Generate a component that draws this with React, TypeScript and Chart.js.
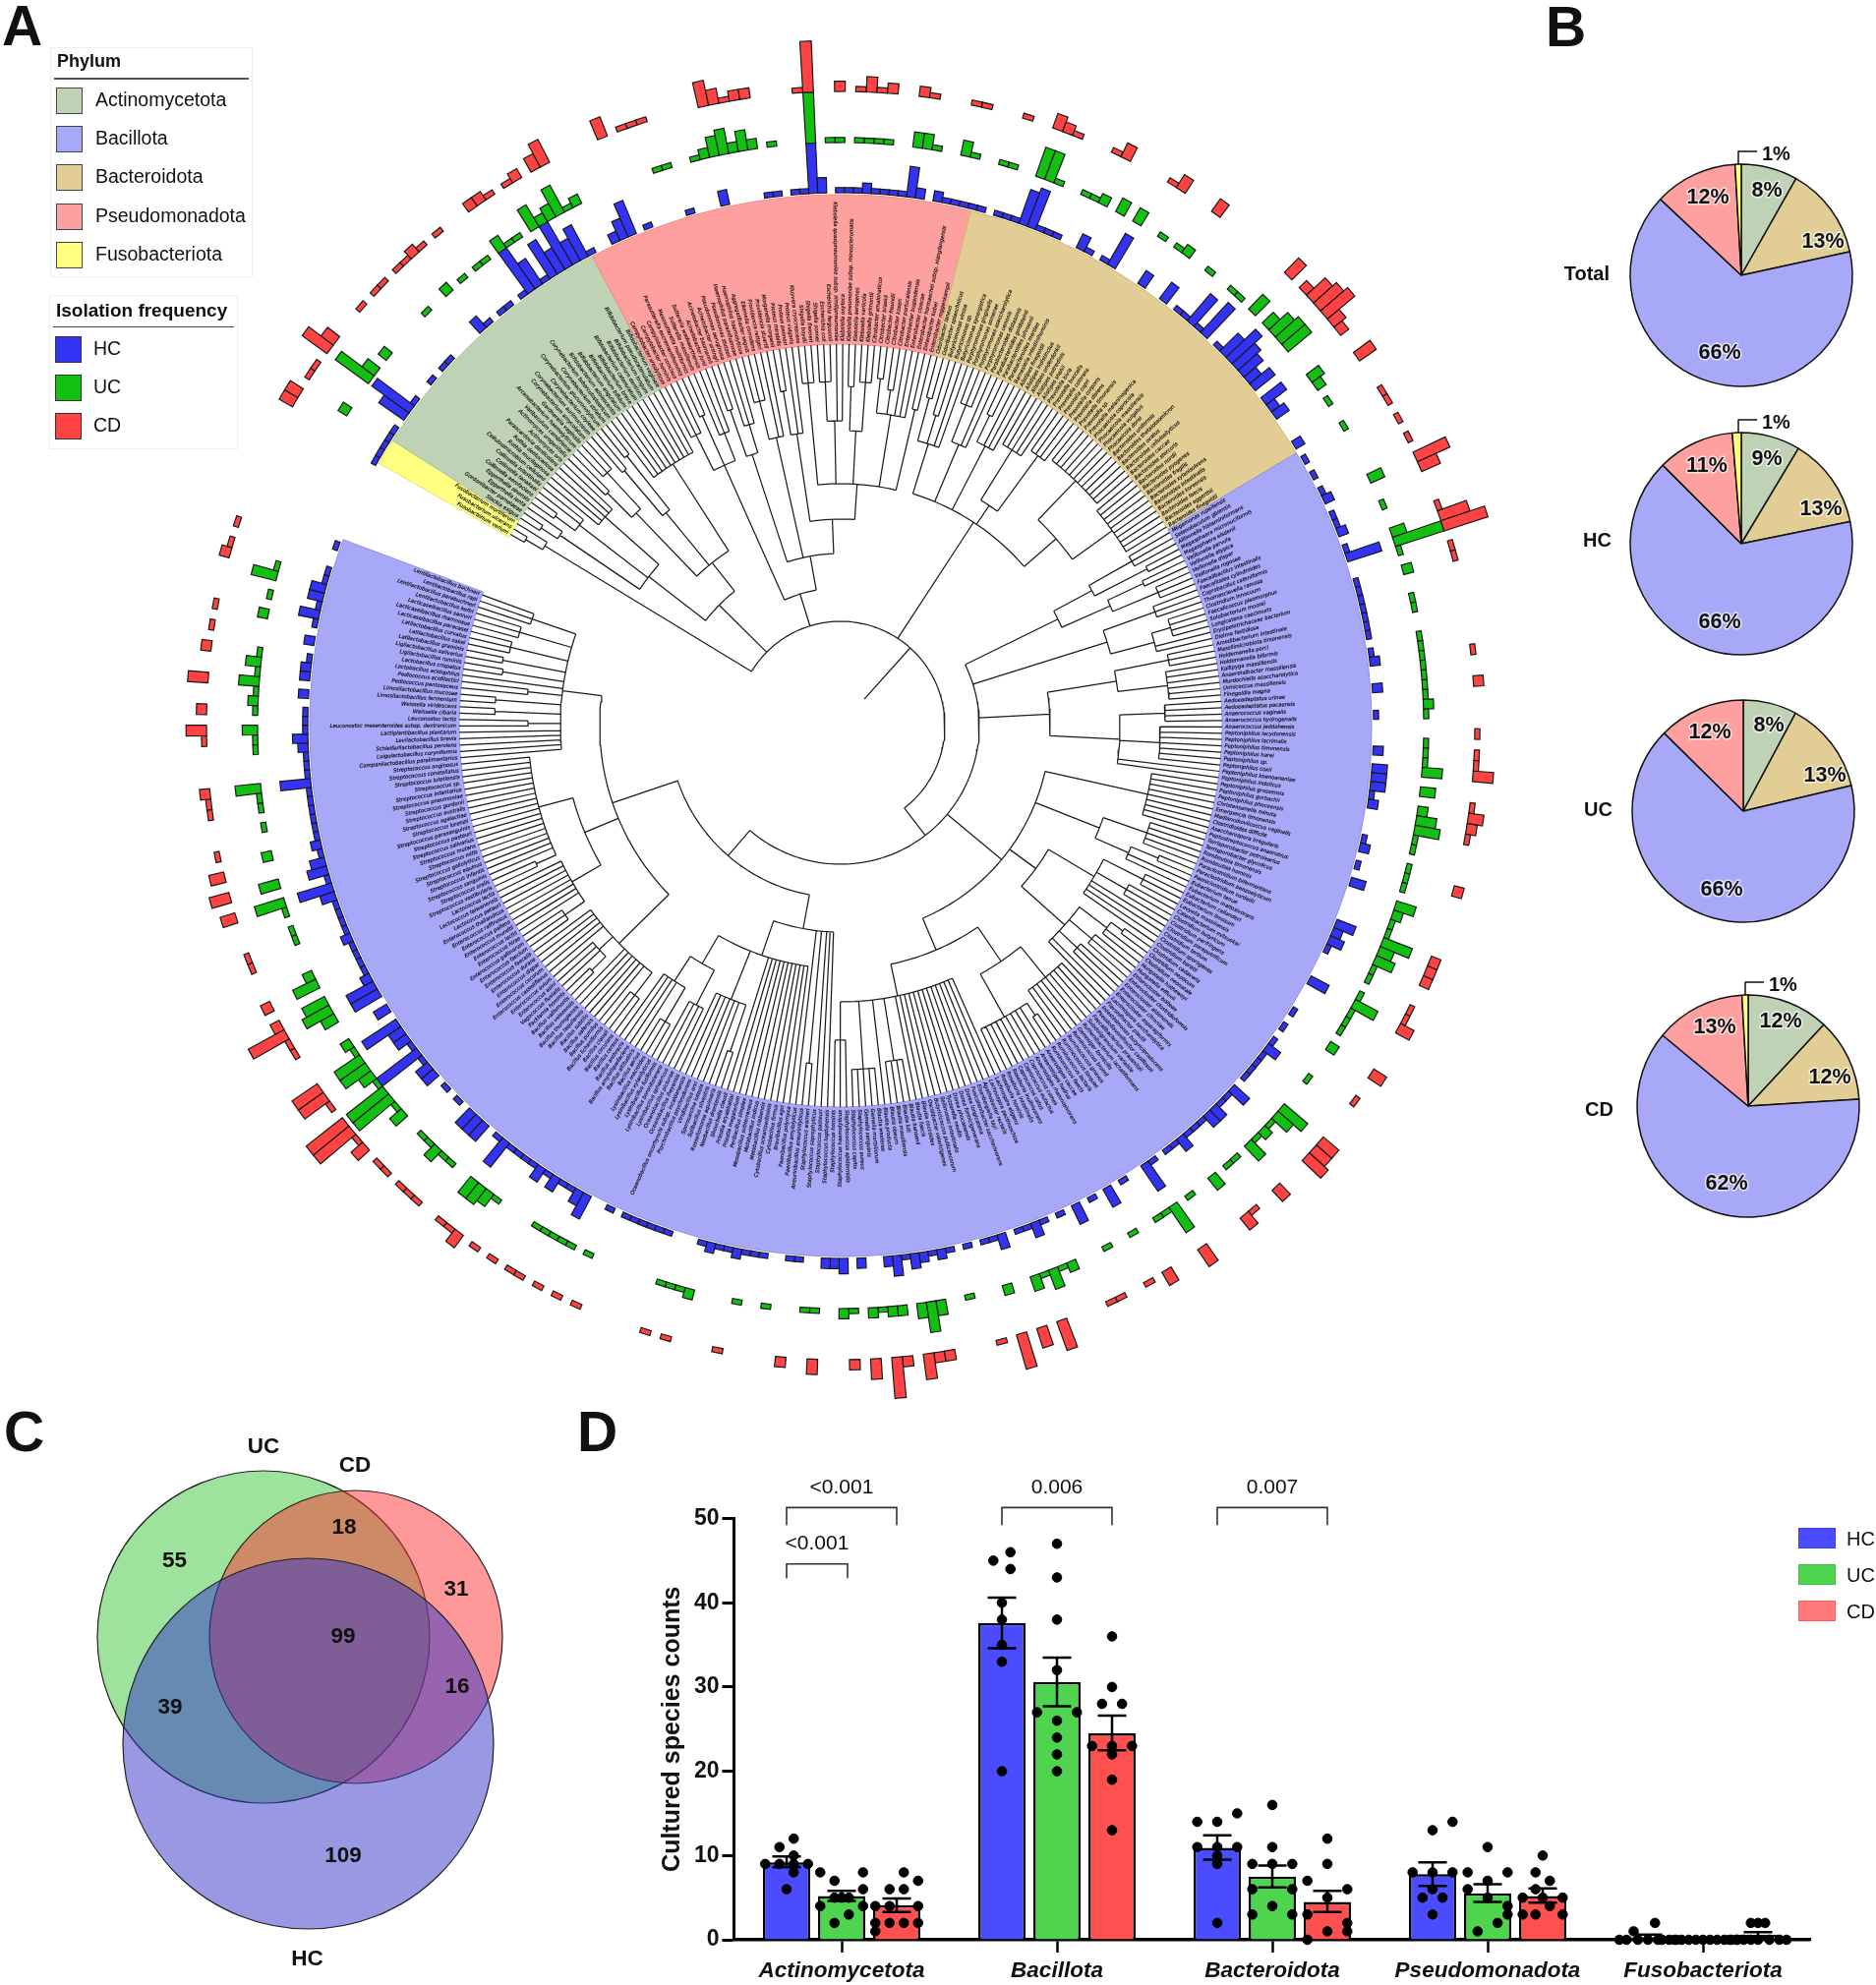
import React, { useEffect, useRef } from "react";
import { Chart, registerables } from "chart.js";

Chart.register(...registerables);

const FONT = '"Liberation Sans", Arial, sans-serif';

/* ---------- Panel A: species, clockwise from the start of the ring ---------- */
const sp = (genus: string, names: string) => names.split(",").map((n) => `${genus} ${n}`);

const fusoLabels = sp("Fusobacterium", "varium,ulcerans,mortiferum");
const actinoLabels = [
  "Slackia exigua", "Gordonibacter pamelaeae", "Eggerthella lenta", "Eggerthella sinensis",
  ...sp("Collinsella", "aerofaciens,tanakaei,intestinalis"), "Cellulosimicrobium cellulans",
  ...sp("Rothia", "mucilaginosa,dentocariosa"), "Parascardovia denticolens",
  ...sp("Actinomyces", "oris,urogenitalis"), "Varibaculum cambriense", "Arcanobacterium haemolyticum",
  "Gardnerella vaginalis",
  ...sp("Corynebacterium", "amycolatum,aurimucosum,coyleae,glucuronolyticum,striatum,tuberculostearicum"),
  ...sp("Bifidobacterium", "adolescentis,angulatum,bifidum,breve,catenulatum,dentium,longum,pseudocatenulatum,vaginale"),
];
const pseudoLabels = [
  ...sp("Campylobacter", "ureolyticus,hominis,concisus"), "Parasutterella excrementihominis",
  "Mesosutterella multiformis", ...sp("Sutterella", "massiliensis,wadsworthensis"),
  ...sp("Acinetobacter", "junii,baumannii,ursingii"), ...sp("Pseudomonas", "aeruginosa,stutzeri"),
  ...sp("Haemophilus", "parainfluenzae,haemolyticus"), "Aggregatibacter segnis", "Eikenella corrodens",
  ...sp("Providencia", "rettgeri,stuartii"), "Morganella morganii", ...sp("Proteus", "mirabilis,penneri,vulgaris"),
  "Kluyvera cryocrescens", ...sp("Shigella", "boydii,flexneri,sonnei"), ...sp("Escherichia", "coli,fergusonii"),
  "Klebsiella quasipneumoniae subsp. similipneumoniae", "Klebsiella oxytoca",
  "Klebsiella pneumoniae subsp. rhinoscleromatis", ...sp("Klebsiella", "aerogenes,variicola,grimontii"),
  ...sp("Citrobacter", "amalonaticus,braakii,freundii,koseri,portucalensis"),
  ...sp("Enterobacter", "bugandensis,cloacae"), "Enterobacter hormaechei subsp. xiangfangensis",
  ...sp("Enterobacter", "kobei,roggenkampii"),
];
const bacteroidotaLabels = [
  ...sp("Odoribacter", "laneus,splanchnicus"), ...sp("Butyricimonas", "virosa,sp.,synergistica"),
  ...sp("Porphyromonas", "gingivalis,somerae,asaccharolytica,uenonis"),
  ...sp("Parabacteroides", "distasonis,goldsteinii,johnsonii,merdae"), "Barnesiella intestinihominis",
  ...sp("Alistipes", "finegoldii,indistinctus,onderdonkii,putredinis,shahii"),
  ...sp("Prevotella", "bivia,buccalis,colorans,copri,corporis,disiens,timonensis,sp.,melaninogenica"),
  ...sp("Phocaeicola", "coprocola,massiliensis,vulgatus,dorei"),
  ...sp("Bacteroides", "uniformis,thetaiotaomicron,ovatus,cellulosilyticus,caccae,stercoris,nordii,pyogenes,fragilis,xylanisolvens,intestinalis,koreensis,faecis,eggerthii,finegoldii"),
];
const bacillotaLabels = [
  "Megamonas rupellensis", "Selenobaculum gbiensis", "Allisonella histaminiformans",
  ...sp("Megasphaera", "micronuciformis,elsdenii"), ...sp("Veillonella", "parvula,atypica,dispar,rogosae"),
  "Faecalibacillus intestinalis", "Faecalitalea cylindroides", "Coprobacillus cateniformis", "Thomasclavelia ramosa",
  "Clostridium innocuum", "Faecalicoccus pleomorphus", "Solobacterium moorei", "Longicatena caecimuris",
  "Erysipelotrichaceae bacterium", "Dielma fastidiosa", "Amedibacterium intestinale", "Massilimicrobiota timonensis",
  ...sp("Holdemanella", "porci,biformis"), "Kallipyga massiliensis", "Anaerotalbacter massiliensis",
  "Murdochiella asaccharolytica", "Urinicoccus massiliensis", "Finegoldia magna",
  ...sp("Aedoeadaptatus", "urinae,pacaensis"), ...sp("Anaerococcus", "vaginalis,hydrogenalis,jeddahensis"),
  ...sp("Peptoniphilus", "lacydonensis,lacrimalis,timonensis,harei,sp.,coxii,koenoeneniae,indolicus,grossensis,gorbachii,phoceensis"),
  "Christensenella minuta", "Emergencia timonensis", "Mediannikoviicoccus vaginalis", "Clostridioides difficile",
  "Asaccharospora irregularis", "Peptostreptococcus anaerobius", ...sp("Terrisporobacter", "petrolearius,glycolicus"),
  ...sp("Romboutsia", "timonensis,hominis"), ...sp("Paraclostridium", "bifermentans,benzoelyticum"),
  "Paeniclostridium sordellii", "Eubacterium tenue", ...sp("Eubacterium", "maltosivorans,callanderi,limosum"),
  "Levyella massiliensis", "Catenibacterium mitsuokai",
  ...sp("Clostridium", "butyricum,perfringens,paraputrificum,tertium,sporogenes,baratii,cadaveris,septicum,neonatale"),
  ...sp("Hungatella", "hathewayi,effluvii"), ...sp("Enterocloster", "bolteae,clostridioformis,aldenensis,citroniae,asparagiformis"),
  "Lacrimispora saccharolytica", "Flavonifractor plautii", "Intestinimonas butyriciproducens",
  "Pseudoflavonifractor capillosus", "Faecalibacterium prausnitzii", "Subdoligranulum variabile",
  "Ruthenibacterium lactatiformans", "Gemmiger formicilis", ...sp("Ruminococcus", "bromii,gnavus,torques,lactaris,faecis"),
  ...sp("Anaerostipes", "caccae,hadrus,rhamnosivorans"), ...sp("Coprococcus", "comes,eutactus,catus"),
  ...sp("Roseburia", "inulinivorans,intestinalis,hominis"), ...sp("Lachnospira", "eligens,pectinoschiza"),
  "Agathobacter rectalis", "Eisenbergiella tayi", "Fusicatenibacter saccharivorans",
  ...sp("Dorea", "longicatena,formicigenerans,phocaeensis"), "Tyzzerella nexilis", "Sellimonas intestinalis",
  "Butyricicoccus pullicaecorum", "Oscillibacter valericigenes",
  ...sp("Blautia", "coccoides,faecis,hansenii,luti,massiliensis,obeum,producta,wexlerae"),
  ...sp("Gemella", "morbillorum,sanguinis"),
  ...sp("Staphylococcus", "aureus,capitis,epidermidis,haemolyticus,hominis,lugdunensis,pasteuri,saprophyticus,warneri"),
  "Aneurinibacillus aneurinilyticus", ...sp("Paenibacillus", "amylolyticus,polymyxa"), "Brevibacillus agri",
  ...sp("Cytobacillus", "firmus,oceanisediminis"), ...sp("Metabacillus", "niabensis,indicus"),
  "Mesobacillus subterraneus", "Peribacillus simplex", ...sp("Priestia", "megaterium,aryabhattai"),
  "Shouchella clausii", "Neobacillus drentensis", "Rossellomorea aquimaris", "Solibacillus silvestris",
  "Sporosarcina luteola", "Viridibacillus arvi", "Psychrobacillus psychrodurans",
  "Oceanobacillus oncorhynchi subsp. incaldanensis", ...sp("Oceanobacillus", "iheyensis,picturae"),
  ...sp("Lysinibacillus", "sphaericus,boronitolerans,fusiformis,xylanilyticus,macroides"),
  ...sp("Bacillus", "aerius,altitudinis,amyloliquefaciens,anthracis,cereus,circulans,clausii,licheniformis,pumilus,safensis,subtilis,tequilensis,thuringiensis,velezensis,vallismortis"),
  "Facklamia hominis", "Vagococcus fluvialis",
  ...sp("Enterococcus", "asini,avium,casseliflavus,cecorum,dispar,durans,faecalis,faecium,gallinarum,hirae,lactis,mundtii,pallens,raffinosus,thailandicus"),
  ...sp("Lactococcus", "petauri,taiwanensis,lactis"),
  ...sp("Streptococcus", "vestibularis,oralis,sanguinis,infantis,equinus,gallolyticus,mitis,mutans,salivarius,pasteuri,parasanguinis,lorenzii,agalactiae,australis,gordonii,pneumoniae,infantarius,sp.,lutetiensis,constellatus,anginosus"),
  "Companilactobacillus paralimentarius", "Loigolactobacillus coryniformis", "Schleiferilactobacillus perolens",
  "Levilactobacillus brevis", "Lactiplantibacillus plantarum", "Leuconostoc mesenteroides subsp. dextranicum",
  "Leuconostoc lactis", "Weissella cibaria", "Weissella viridescens", "Limosilactobacillus fermentum",
  "Limosilactobacillus mucosae", "Pediococcus pentosaceus", "Pediococcus acidilactici", "Lactobacillus acidophilus",
  "Lactobacillus crispatus", "Ligilactobacillus ruminis", "Ligilactobacillus salivarius", "Latilactobacillus graminis",
  "Latilactobacillus sakei", "Latilactobacillus curvatus", "Lacticaseibacillus paracasei", "Lacticaseibacillus rhamnosus",
  "Lacticaseibacillus saniviri", "Lentilactobacillus kefiri", "Lentilactobacillus parabuchneri", "Lentilactobacillus rapi",
  "Lentilactobacillus buchneri",
];
const speciesLabels = [...fusoLabels, ...actinoLabels, ...pseudoLabels, ...bacteroidotaLabels, ...bacillotaLabels];

const phylumNames = ["Fusobacteriota", "Actinomycetota", "Pseudomonadota", "Bacteroidota", "Bacillota"];
const phylumCounts = [3, 31, 44, 47, 242];
const phylumFill = ["#FFFF80", "#BFD2B6", "#FFA0A0", "#E2CE95", "#A8A8F8"];
const phylumEdge = ["#E2E270", "#A5C09A", "#F08888", "#CDB676", "#8E8EE8"];

/* [species index, isolation frequency in tenths] */
const hcFrequency = [[0,1],[1,1],[2,1],[3,1],[4,1],[6,6],[7,9],[8,1],[11,1],[13,1],[14,1],[19,3],[20,1],[22,1],[23,1],[25,1],[26,10],[27,6],[28,1],[29,8],[30,5],[31,10],[32,5],[33,7],[34,1],[37,2],[38,4],[39,7],[41,1],[46,1],[50,3],[55,1],[56,1],[58,1],[59,1],[60,10],[61,3],[63,1],[64,1],[65,1],[66,2],[67,1],[68,1],[69,1],[70,1],[71,6],[72,2],[74,2],[75,1],[76,1],[77,1],[78,1],[79,1],[81,1],[82,1],[83,1],[84,7],[85,8],[86,1],[87,1],[88,1],[91,3],[92,1],[94,1],[95,7],[99,3],[102,4],[104,1],[105,1],[106,7],[107,1],[108,8],[110,1],[111,5],[112,8],[113,6],[114,5],[115,3],[116,5],[118,5],[119,2],[120,3],[124,2],[126,1],[128,1],[130,1],[131,2],[133,1],[134,1],[135,2],[137,1],[138,7],[141,1],[142,1],[143,1],[144,1],[145,1],[146,1],[147,1],[149,1],[150,2],[153,2],[156,1],[160,2],[162,3],[163,3],[164,3],[165,1],[166,2],[170,1],[171,2],[173,1],[175,3],[180,4],[181,2],[182,3],[183,1],[187,4],[191,1],[193,1],[195,1],[196,3],[197,1],[198,1],[199,1],[200,1],[202,4],[203,1],[204,1],[205,3],[206,3],[207,1],[208,1],[209,1],[210,3],[211,1],[212,1],[214,1],[215,6],[218,1],[220,4],[222,1],[224,4],[226,1],[228,1],[229,3],[230,1],[231,1],[233,3],[234,1],[235,1],[237,1],[239,1],[240,2],[241,1],[242,2],[243,3],[244,1],[245,4],[246,2],[249,2],[251,3],[252,2],[253,2],[256,1],[257,1],[260,1],[261,1],[262,1],[263,2],[264,1],[265,1],[266,2],[267,1],[271,1],[272,1],[273,1],[274,1],[275,1],[276,1],[278,1],[281,5],[282,3],[283,1],[284,1],[285,3],[286,1],[287,3],[288,1],[289,1],[290,1],[291,1],[292,6],[293,1],[295,4],[296,4],[297,4],[299,1],[301,1],[303,3],[304,3],[305,1],[306,10],[307,1],[308,3],[309,3],[310,8],[312,3],[314,6],[315,6],[316,2],[317,1],[318,1],[319,1],[320,1],[321,2],[322,1],[323,1],[324,1],[325,1],[326,3],[327,7],[328,1],[329,4],[330,3],[331,1],[332,2],[333,1],[334,1],[335,1],[336,1],[337,1],[338,1],[339,6],[340,1],[341,1],[342,1],[343,2],[344,3],[345,1],[346,1],[347,1],[349,2],[351,2],[352,2],[353,1],[355,2],[357,1],[358,4],[359,1],[360,3],[361,3],[362,1],[363,1],[366,1]];
const ucFrequency = [[3,2],[7,8],[8,3],[10,2],[16,1],[19,2],[21,1],[23,1],[24,1],[26,3],[27,1],[28,1],[30,5],[31,2],[32,3],[33,6],[34,1],[35,2],[44,1],[45,1],[48,1],[49,2],[50,4],[51,5],[52,2],[53,4],[54,2],[56,1],[60,10],[62,1],[63,1],[65,1],[66,1],[67,1],[68,1],[71,3],[72,3],[73,1],[76,3],[77,1],[80,1],[81,1],[84,6],[85,6],[86,1],[89,1],[90,1],[91,2],[93,3],[95,3],[98,1],[100,1],[101,2],[104,1],[107,1],[108,1],[110,4],[112,3],[113,5],[114,6],[115,6],[119,3],[120,2],[122,1],[125,1],[131,3],[134,1],[137,3],[138,10],[139,1],[141,2],[144,1],[145,1],[148,1],[149,1],[150,1],[151,1],[152,1],[153,1],[154,1],[155,2],[156,1],[159,1],[160,1],[161,1],[162,4],[164,3],[166,2],[167,4],[168,5],[169,1],[170,1],[172,1],[173,1],[174,1],[176,4],[177,2],[178,1],[179,1],[180,6],[181,3],[182,4],[183,1],[184,1],[186,1],[187,5],[188,1],[189,1],[190,1],[192,2],[196,1],[200,6],[201,4],[202,1],[203,2],[204,1],[205,4],[207,1],[208,1],[210,3],[213,1],[215,6],[216,1],[217,1],[220,1],[223,1],[227,2],[228,1],[229,4],[230,1],[231,3],[234,2],[238,1],[241,3],[242,6],[243,3],[245,2],[246,2],[247,1],[248,2],[250,1],[251,2],[254,1],[255,1],[259,1],[262,1],[267,2],[268,1],[269,1],[270,1],[278,1],[280,1],[281,1],[282,1],[283,1],[284,1],[289,1],[290,3],[291,4],[292,4],[295,1],[296,1],[297,3],[298,1],[299,1],[302,3],[303,1],[304,9],[305,9],[306,1],[307,3],[308,6],[309,6],[310,1],[311,2],[314,3],[315,6],[316,5],[318,5],[319,2],[323,1],[324,1],[326,1],[327,6],[329,4],[332,2],[335,1],[337,1],[338,1],[339,5],[343,1],[344,1],[345,3],[347,1],[348,2],[349,1],[350,4],[351,1],[352,3],[353,1],[357,2],[359,1],[361,5],[362,1]];
const cdFrequency = [[1,3],[2,3],[4,1],[5,1],[7,6],[8,3],[12,1],[14,1],[15,1],[17,1],[18,1],[19,2],[20,1],[22,1],[26,2],[27,2],[28,1],[30,1],[31,2],[33,3],[34,5],[40,4],[42,1],[43,1],[44,1],[50,5],[51,3],[52,1],[53,2],[54,2],[59,1],[60,10],[63,2],[65,1],[66,3],[67,1],[68,2],[71,2],[72,1],[76,1],[77,1],[81,1],[84,3],[85,2],[86,1],[90,1],[91,3],[96,1],[97,3],[101,3],[110,4],[112,2],[113,5],[114,6],[115,7],[116,3],[117,2],[120,4],[124,1],[125,1],[127,1],[129,1],[131,7],[132,4],[136,1],[137,6],[138,9],[140,1],[141,1],[150,1],[153,2],[158,1],[160,1],[161,1],[162,4],[165,1],[166,3],[167,2],[168,1],[173,2],[180,2],[181,2],[182,2],[185,1],[186,1],[187,3],[192,3],[195,1],[200,4],[201,4],[202,5],[206,3],[209,1],[210,3],[215,4],[219,3],[221,1],[224,1],[225,1],[230,6],[232,4],[234,7],[236,1],[241,2],[242,2],[243,5],[245,2],[246,8],[248,4],[250,2],[254,3],[257,2],[263,1],[268,1],[270,1],[277,1],[279,1],[281,1],[283,1],[284,1],[286,1],[288,1],[290,3],[291,1],[292,1],[295,1],[296,1],[297,1],[299,1],[300,1],[302,3],[303,1],[304,9],[305,9],[307,1],[308,6],[309,6],[313,1],[314,1],[315,8],[316,2],[318,2],[322,1],[323,1],[327,3],[329,4],[331,3],[333,1],[337,1],[338,1],[339,2],[344,1],[345,4],[347,2],[350,4],[353,2],[355,1],[357,1],[362,2],[363,1],[365,1]];

/* Dendrogram: [node depth, ...children]; a number is that many leaves joined directly. */
const fusoClade = [352, [372, 2], 1];
const actinoClade = [174, [247, [345, [365, 2], 1], [335, [360, 2], 2], [320, 5]], [211, [300, [335, 2], [350, 3]], [280, [340, 2], [350, 2]], [316, 10]]];
const pseudoClade = [140, [290, [330, 3], [345, 2], [320, 3]], [175, [290, [340, 2], [320, 3]], [300, [340, 3], 2], [210, [300, [345, 2], 2], [246, [320, [350, 3]], [310, [350, 3], 2], [300, [345, 2], [350, 3]], [320, [355, 2], [345, 2], 3], [330, 2]]]]];
const bacteroidClade = [247, [300, [345, 2], [330, 2], 2], [310, [350, 3], 2], [320, [350, 2], 3], [270, [330, 5], [340, 4]], [290, [345, 12], [340, 10]]];
const bacillotaClade = [141,
  [246, [290, [340, 3], [350, 2]], [300, [340, 2], [350, 3]]],
  [284, [340, 3], [330, [350, 4], 2]],
  [213, [284, [340, 3], [335, 6]], [284, [330, 4], [325, 7], 2]],
  [213, [320, 9], [283, [330, 5], [320, [350, 2], 2]],
    [246, [300, [345, 3], [335, 3], 4], [305, [340, [355, 2], 2], [335, 3], [330, 3], 2]],
    [248, [290, [330, 9], [340, [355, 2], 9]], [281, 14, [345, 4], 1, [350, 5], [320, 3]]]],
  [175,
    [210, 3, [345, 2], 1, [247, 11, [300, [350, 2], 6], [280, [320, 4], [310, [350, 3], 4]]]],
    [245, [316, [345, 3], 6, [335, [355, 2], 3], 5], [282, [316, [340, 3], 8], [318, [340, 2], 19]],
      [285, 5, [318, 2], [352, 2], [352, 2], [320, 2], 1, [348, 2], [350, 2], [345, 3], [340, 3], [332, 3]]]],
];
const rootClade = [106, fusoClade, actinoClade, pseudoClade, bacteroidClade, bacillotaClade];

/* ---------- Panel B ---------- */
const pieCategories = ["Actinomycetota", "Bacteroidota", "Bacillota", "Pseudomonadota", "Fusobacteriota"];
const pieColors = ["#BFD2B6", "#E2CE95", "#A8A8F8", "#FFA0A0", "#FFFF80"];
const pieTotal = [8.2, 13.4, 65.4, 12.1, 0.9];
const pieHC = [8.6, 13.2, 65.7, 11.2, 1.3];
const pieUC = [7.8, 13.5, 66.1, 12.6, 0];
const pieCD = [11.9, 12.1, 62, 13.1, 0.9];
const pieTextTotal = ["8%", "13%", "66%", "12%"];
const pieTextHC = ["9%", "13%", "66%", "11%"];
const pieTextUC = ["8%", "13%", "66%", "12%"];
const pieTextCD = ["12%", "12%", "62%", "13%"];

/* ---------- Panel C ---------- */
const vennSets = ["HC", "CD", "UC"];
const vennX = [313.5, 362, 268];
const vennY = [1773.5, 1665, 1665];
const vennR = [188.5, 149, 169];
const vennFill = ["rgba(50,50,200,.5)", "rgba(255,50,50,.5)", "rgba(60,200,60,.5)"];
const vennText = [
  ["UC", 268, 1472], ["CD", 361, 1491], ["HC", 312.5, 1993], ["55", 177.5, 1588], ["18", 350, 1554],
  ["31", 464, 1617], ["99", 349, 1665], ["16", 465, 1716], ["39", 173, 1737], ["109", 349, 1888],
];

/* ---------- Panel D ---------- */
const phylaD = ["Actinomycetota", "Bacillota", "Bacteroidota", "Pseudomonadota", "Fusobacteriota"];
const meanHC = [9.2, 37.6, 10.9, 7.8, 0.3];
const meanUC = [5.2, 30.6, 7.5, 5.5, 0];
const meanCD = [4.1, 24.5, 4.5, 5.2, 0.6];
const errHC = [[8.6, 9.9], [34.6, 40.6], [9.5, 12.4], [6.4, 9.2], [0, 0.6]];
const errUC = [[4.6, 5.8], [27.7, 33.5], [6.2, 8.8], [4.5, 6.6], [0, 0]];
const errCD = [[3.3, 4.9], [22.5, 26.6], [3.3, 5.8], [4.4, 6.1], [0.2, 0.9]];
/* [swarm column, count] */
const dotsHC = [
  [[.5,12],[-.5,11],[.5,10],[-1.5,9],[-.5,9],[.5,9],[1.5,9],[.5,8],[0,6]],
  [[.6,46],[-.6,45],[.6,44],[0,40],[0,38],[0,35],[0,33],[0,20]],
  [[-1.4,14],[0,14],[1.4,15],[-1.4,11],[0,11],[1.4,11],[0,10],[0,9],[0,2]],
  [[1.4,14],[0,13],[-1.4,8],[0,8],[1.4,8],[0,6],[-.7,5],[.7,5],[0,3]],
  [[.5,2],[-1,1],[-1.5,0],[-.7,0],[0,0],[.7,0],[1.5,0],[2,0],[-2,0],[1,0]],
];
const dotsUC = [
  [[-1.5,8],[1.5,8],[-.5,7],[1.5,6],[-.5,5],[0,5],[.5,5],[-1.5,4],[1.5,4],[.5,3],[-.5,2]],
  [[0,47],[0,43],[0,38],[0,32],[-1.4,27],[1.4,27],[0,26],[0,24],[0,22],[0,20]],
  [[0,16],[0,11],[-1.4,9],[1.4,9],[0,9],[-1.4,6],[1.4,6],[0,4],[-1.4,3],[1.4,3]],
  [[0,11],[-1.4,8],[1.4,8],[0,7],[-1.4,6],[0,5],[1.4,4],[1.4,3],[.7,2],[-.7,1]],
  [[-2,0],[-1.5,0],[-1,0],[-.5,0],[0,0],[.5,0],[1,0],[1.5,0],[2,0],[2.4,0]],
];
const dotsCD = [
  [[.5,8],[1.5,7],[-.5,6],[.5,6],[-.5,4],[1.5,4],[-1.5,4],[.5,2],[-.5,2],[1.5,2],[-1.5,1],[-1.5,2]],
  [[0,36],[0,30],[-.7,28],[.7,28],[-1.4,23],[0,23],[1.4,23],[0,22],[0,19],[0,13]],
  [[0,12],[0,9],[-1.4,7],[1.4,6],[0,5],[-1.4,3],[1.4,2],[1.4,1],[0,1],[-1.4,0]],
  [[0,10],[-.5,8],[.5,7],[-.5,6],[-1.4,5],[0,5],[1.4,5],[.5,4],[-1.4,3],[-.5,3],[1.4,3]],
  [[-.5,2],[0,2],[.5,2],[-2,0],[-1.5,0],[-1,0],[-.5,0],[0,0],[.8,0],[1.5,0],[2,0]],
];
const brackets = [
  { from: [0, 0], to: [0, 2], top: 51.3, foot: 49.2, labelY: 53.7, text: "<0.001", nudge: 0 },
  { from: [0, 0], to: [0, 1], top: 44.6, foot: 42.9, labelY: 47, text: "<0.001", nudge: 6 },
  { from: [1, 0], to: [1, 2], top: 51.3, foot: 49.2, labelY: 53.7, text: "0.006", nudge: 0 },
  { from: [2, 0], to: [2, 2], top: 51.3, foot: 49.2, labelY: 53.7, text: "0.007", nudge: 0 },
];

const ringColors = { HC: "#3333F5", UC: "#12C012", CD: "#FF4242" };
const legendD = [["HC", "#4B4BFF", "#3A3AF0"], ["UC", "#4FD44F", "#3DC23D"], ["CD", "#FF7A7A", "#FF5858"]];

/* ---------- Radial geometry ---------- */
const START_DEG = 299.6;
const STEP_DEG = (650.5 - START_DEG) / speciesLabels.length;
const TIP_R = 388;
const BAND_R = 540;
const RING_UNIT = 5.2;
const RING_BASE = { HC: 542, UC: 593, CD: 645 };
const BAR_SHIFT = 0.4;

type P = { x: number | null; y: number | null };
const polar = (r: number, deg: number): P => {
  const t = (deg * Math.PI) / 180;
  return { x: r * Math.sin(t), y: r * Math.cos(t) };
};
const GAP: P = { x: null, y: null };

function buildTree(): P[] {
  const pts: P[] = [];
  let cursor = 0;
  const seg = (r1: number, r2: number, deg: number) => pts.push(polar(r1, deg), polar(r2, deg), GAP);
  const arc = (r: number, a: number, b: number) => {
    const n = Math.max(1, Math.ceil((b - a) / 1.5));
    for (let i = 0; i <= n; i++) pts.push(polar(r, a + ((b - a) * i) / n));
    pts.push(GAP);
  };
  const walk = (node: any[]): number => {
    const r = node[0];
    const angles: number[] = [];
    for (const kid of node.slice(1)) {
      if (typeof kid === "number") {
        for (let i = 0; i < kid; i++) {
          const deg = START_DEG + (cursor + 0.5) * STEP_DEG;
          cursor++;
          seg(r, TIP_R, deg);
          angles.push(deg);
        }
      } else {
        const deg = walk(kid);
        seg(r, kid[0], deg);
        angles.push(deg);
      }
    }
    const a = angles[0];
    const b = angles[angles.length - 1];
    arc(r, a, b);
    return (a + b) / 2;
  };
  const rootDeg = walk(rootClade);
  seg(36, rootClade[0] as number, rootDeg);
  return pts;
}

function buildBars(pairs: number[][], base: number): P[] {
  const pts: P[] = [];
  for (const [i, v] of pairs) {
    const a = START_DEG + (i - BAR_SHIFT) * STEP_DEG;
    const b = a + STEP_DEG;
    const top = base + v * RING_UNIT;
    pts.push(polar(base, a), polar(top, a), polar(top, b), polar(base, b), GAP);
  }
  return pts;
}

function buildBands(): any[] {
  let first = 0;
  return phylumNames.map((name, k) => {
    const a = START_DEG + first * STEP_DEG;
    first += phylumCounts[k];
    const b = START_DEG + first * STEP_DEG;
    const pts: P[] = [];
    const n = Math.ceil(b - a);
    for (let i = 0; i <= n; i++) pts.push(polar(BAND_R, a + ((b - a) * i) / n));
    for (let i = n; i >= 0; i--) pts.push(polar(TIP_R, a + ((b - a) * i) / n));
    return { label: name, data: pts, polygon: true, fillColor: phylumFill[k], edgeColor: phylumEdge[k], edgeWidth: 1, showLine: false, pointRadius: 0 };
  });
}

/* ---------- Plugins ---------- */
const polygonPlugin = {
  id: "polygons",
  beforeDatasetsDraw(chart: any) {
    const { ctx, scales } = chart;
    for (const ds of chart.data.datasets) {
      if (!ds.polygon) continue;
      ctx.save();
      ctx.fillStyle = ds.fillColor;
      ctx.strokeStyle = ds.edgeColor;
      ctx.lineWidth = ds.edgeWidth;
      ctx.lineJoin = "miter";
      let open = false;
      const flush = () => {
        if (open) {
          ctx.closePath();
          ctx.fill();
          ctx.stroke();
        }
        open = false;
      };
      for (const p of ds.data as P[]) {
        if (p.x === null || p.y === null) {
          flush();
          continue;
        }
        const px = scales.x.getPixelForValue(p.x);
        const py = scales.y.getPixelForValue(p.y);
        if (!open) {
          ctx.beginPath();
          ctx.moveTo(px, py);
          open = true;
        } else ctx.lineTo(px, py);
      }
      flush();
      ctx.restore();
    }
  },
};

const speciesTextPlugin = {
  id: "speciesText",
  afterDatasetsDraw(chart: any) {
    const { ctx, scales } = chart;
    ctx.save();
    ctx.font = 'italic 5.3px "DejaVu Sans", sans-serif';
    ctx.fillStyle = "#000";
    ctx.strokeStyle = "rgba(0,0,0,.55)";
    ctx.lineWidth = 0.25;
    ctx.textBaseline = "middle";
    speciesLabels.forEach((name, i) => {
      const deg = START_DEG + (i + 0.5) * STEP_DEG;
      const norm = deg % 360;
      const p = polar(TIP_R + 3, deg);
      const right = norm < 180;
      ctx.save();
      ctx.translate(scales.x.getPixelForValue(p.x), scales.y.getPixelForValue(p.y));
      ctx.rotate(((right ? norm - 90 : norm + 90) * Math.PI) / 180);
      ctx.textAlign = right ? "left" : "right";
      ctx.fillText(name, 0, 0);
      ctx.strokeText(name, 0, 0);
      ctx.restore();
    });
    ctx.restore();
  },
};

const radialConfig = () => ({
  type: "scatter",
  data: {
    datasets: [
      ...buildBands(),
      { label: "Tree", data: buildTree(), showLine: true, spanGaps: false, borderColor: "#1c1c1c", borderWidth: 1.25, pointRadius: 0, tension: 0, fill: false },
      { label: "HC", data: buildBars(hcFrequency, RING_BASE.HC), polygon: true, fillColor: ringColors.HC, edgeColor: "#1a1a1a", edgeWidth: 1.2, showLine: false, pointRadius: 0 },
      { label: "UC", data: buildBars(ucFrequency, RING_BASE.UC), polygon: true, fillColor: ringColors.UC, edgeColor: "#1a1a1a", edgeWidth: 1.2, showLine: false, pointRadius: 0 },
      { label: "CD", data: buildBars(cdFrequency, RING_BASE.CD), polygon: true, fillColor: ringColors.CD, edgeColor: "#1a1a1a", edgeWidth: 1.2, showLine: false, pointRadius: 0 },
    ],
  },
  options: {
    responsive: false,
    animation: false,
    devicePixelRatio: 1,
    events: [],
    layout: { padding: 0, autoPadding: false },
    plugins: { legend: { display: false }, tooltip: { enabled: false } },
    scales: {
      x: { type: "linear", display: false, min: -855, max: 705 },
      y: { type: "linear", display: false, min: -702, max: 738 },
    },
  },
  plugins: [polygonPlugin, speciesTextPlugin],
});

const pieConfig = (values: number[], texts: string[], offsets: number[][], showOne: boolean) => ({
  type: "pie",
  data: {
    labels: pieCategories,
    datasets: [{ data: values, backgroundColor: pieColors, borderColor: "#111", borderWidth: 1.5, radius: 113, borderAlign: "center" }],
  },
  options: {
    responsive: false,
    animation: false,
    devicePixelRatio: 1,
    events: [],
    layout: { padding: 0 },
    plugins: { legend: { display: false }, tooltip: { enabled: false } },
  },
  plugins: [
    {
      id: "pieText",
      afterDatasetsDraw(chart: any) {
        const { ctx } = chart;
        const arc = chart.getDatasetMeta(0).data[0];
        const cx = arc.x;
        const cy = arc.y;
        ctx.save();
        ctx.font = `bold 21.5px ${FONT}`;
        ctx.textAlign = "center";
        ctx.textBaseline = "middle";
        ctx.lineJoin = "round";
        texts.forEach((t, i) => {
          ctx.strokeStyle = "rgba(255,255,255,.65)";
          ctx.lineWidth = 3;
          ctx.strokeText(t, cx + offsets[i][0], cy + offsets[i][1]);
          ctx.fillStyle = "#111";
          ctx.fillText(t, cx + offsets[i][0], cy + offsets[i][1]);
        });
        if (showOne) {
          ctx.strokeStyle = "#111";
          ctx.lineWidth = 1.5;
          ctx.beginPath();
          ctx.moveTo(cx - 3, cy - 113);
          ctx.lineTo(cx - 3, cy - 126);
          ctx.lineTo(cx + 16, cy - 126);
          ctx.stroke();
          ctx.font = `bold 20px ${FONT}`;
          ctx.textAlign = "left";
          ctx.fillStyle = "#111";
          ctx.fillText("1%", cx + 21, cy - 123);
        }
        ctx.restore();
      },
    },
  ],
});

const vennConfig = () => ({
  type: "bubble",
  data: {
    datasets: vennSets.map((name, i) => ({
      label: name,
      data: [{ x: vennX[i], y: vennY[i], r: vennR[i] }],
      backgroundColor: vennFill[i],
      borderColor: "#222",
      borderWidth: 1.2,
      clip: false,
    })),
  },
  options: {
    responsive: false,
    animation: false,
    devicePixelRatio: 1,
    events: [],
    layout: { padding: 0, autoPadding: false },
    plugins: { legend: { display: false }, tooltip: { enabled: false } },
    scales: {
      x: { type: "linear", display: false, min: 0, max: 600 },
      y: { type: "linear", display: false, min: 1440, max: 2019, reverse: true },
    },
  },
  plugins: [
    {
      id: "vennText",
      afterDatasetsDraw(chart: any) {
        const { ctx, scales } = chart;
        ctx.save();
        ctx.font = `bold 22.5px ${FONT}`;
        ctx.fillStyle = "#111";
        ctx.textAlign = "center";
        ctx.textBaseline = "middle";
        vennText.forEach(([t, x, y]) => {
          ctx.fillText(t as string, scales.x.getPixelForValue(x as number), scales.y.getPixelForValue(y as number));
        });
        ctx.restore();
      },
    },
  ],
});

const BAR_STEP = 56 / 219;
const DOT_COL = 14.5 / 219;
const dotSeries = (rows: number[][][], s: number) =>
  rows.flatMap((row, g) => row.map(([c, v]) => ({ x: g + (s - 1) * BAR_STEP + c * DOT_COL, y: v })));

const barConfig = () => {
  const bar = (label: string, data: number[], color: string) => ({
    label, data, backgroundColor: color, borderColor: "#000", borderWidth: 2.5,
    categoryPercentage: 0.767, barPercentage: 0.857,
  });
  return {
    type: "bar",
    data: {
      labels: phylaD,
      datasets: [bar("HC", meanHC, "#4B4BFF"), bar("UC", meanUC, "#4FD44F"), bar("CD", meanCD, "#FF5050")],
    },
    options: {
      responsive: false,
      animation: false,
      devicePixelRatio: 1,
      events: [],
      layout: { padding: { left: 0, top: 54.5, right: 66.5, bottom: 0 } },
      plugins: { legend: { display: false }, tooltip: { enabled: false } },
      scales: {
        x: {
          type: "category",
          offset: true,
          afterFit(s: any) { s.height = 46; },
          grid: { display: true, offset: false, drawOnChartArea: false, drawTicks: true, tickLength: 13, tickWidth: 2.5, tickColor: "#000" },
          border: { display: true, width: 3.5, color: "#000" },
          ticks: { color: "#111", font: { family: FONT, size: 22.5, style: "italic", weight: "bold" }, padding: 5, maxRotation: 0, autoSkip: false },
        },
        y: {
          min: 0,
          max: 50,
          afterFit(s: any) { s.width = 86.5; },
          title: { display: true, text: "Cultured species counts", color: "#111", font: { family: FONT, size: 25, weight: "bold" }, padding: { top: 9, bottom: 0 } },
          grid: { display: true, drawOnChartArea: false, drawTicks: true, tickLength: 12, tickWidth: 3, tickColor: "#000" },
          border: { display: true, width: 3, color: "#000" },
          ticks: { stepSize: 10, color: "#111", font: { family: FONT, size: 23, weight: "bold" }, padding: 3 },
        },
      },
    },
    plugins: [
      {
        id: "errorBars",
        afterDatasetsDraw(chart: any) {
          const { ctx, scales } = chart;
          const barX = (g: number, s: number) => chart.getDatasetMeta(s).data[g].x;
          ctx.save();
          ctx.strokeStyle = "#000";
          ctx.lineWidth = 2.5;
          [errHC, errUC, errCD].forEach((rows, s) => {
            rows.forEach(([lo, hi], g) => {
              const x = barX(g, s);
              const yl = scales.y.getPixelForValue(lo);
              const yh = scales.y.getPixelForValue(hi);
              ctx.beginPath();
              ctx.moveTo(x, yl); ctx.lineTo(x, yh);
              ctx.moveTo(x - 14.5, yl); ctx.lineTo(x + 14.5, yl);
              ctx.moveTo(x - 14.5, yh); ctx.lineTo(x + 14.5, yh);
              ctx.stroke();
            });
          });
          ctx.lineWidth = 1.6;
          ctx.strokeStyle = "#333";
          ctx.fillStyle = "#111";
          ctx.font = `21px ${FONT}`;
          ctx.textAlign = "center";
          ctx.textBaseline = "middle";
          for (const b of brackets) {
            const x1 = barX(b.from[0], b.from[1]);
            const x2 = barX(b.to[0], b.to[1]) + b.nudge;
            const top = scales.y.getPixelForValue(b.top);
            const foot = scales.y.getPixelForValue(b.foot);
            ctx.beginPath();
            ctx.moveTo(x1, foot); ctx.lineTo(x1, top); ctx.lineTo(x2, top); ctx.lineTo(x2, foot);
            ctx.stroke();
            ctx.fillText(b.text, (x1 + x2) / 2, scales.y.getPixelForValue(b.labelY));
          }
          ctx.restore();
        },
      },
    ],
  };
};

/* The swarm dots sit on an overlay whose plot area coincides with the bar chart's. */
const dotsConfig = () => {
  const dots = (label: string, rows: number[][][], s: number) => ({
    label, data: dotSeries(rows, s), backgroundColor: "#000", borderColor: "#000", pointRadius: 4.8, showLine: false, clip: false,
  });
  return {
    type: "scatter",
    data: { datasets: [dots("HC", dotsHC, 0), dots("UC", dotsUC, 1), dots("CD", dotsCD, 2)] },
    options: {
      responsive: false,
      animation: false,
      devicePixelRatio: 1,
      events: [],
      layout: { padding: { left: 86.5, top: 54.5, right: 66.5, bottom: 46 }, autoPadding: false },
      plugins: { legend: { display: false }, tooltip: { enabled: false } },
      scales: {
        x: { type: "linear", display: false, min: -0.5, max: 4.5, offset: false },
        y: { type: "linear", display: false, min: 0, max: 50 },
      },
    },
  };
};

/* ---------- React ---------- */
function ChartCanvas({ left, top, width, height, config }: any) {
  const ref = useRef<HTMLCanvasElement | null>(null);
  useEffect(() => {
    const chart = new Chart(ref.current as any, config());
    return () => chart.destroy();
  }, []);
  return <canvas ref={ref} width={width} height={height} style={{ position: "absolute", left, top, width, height, display: "block" }} />;
}

function T({ x, y, size, bold, children, align }: any) {
  const h = Math.ceil(size * 1.3);
  return (
    <div style={{
      position: "absolute", left: align === "right" ? undefined : x, right: align === "right" ? 1908 - x : undefined,
      top: y - h / 2, height: h, lineHeight: `${h}px`, fontFamily: FONT, fontSize: size,
      fontWeight: bold ? 700 : 400, color: "#111", whiteSpace: "nowrap",
    }}>{children}</div>
  );
}

function Swatch({ x, y, w, h, color, edge }: any) {
  return <div style={{ position: "absolute", left: x, top: y, width: w, height: h, boxSizing: "border-box", background: color, border: `1.5px solid ${edge}` }} />;
}

const legendPhyla = [
  ["Actinomycetota", "#BFD2B6", 89], ["Bacillota", "#A8A8F8", 128], ["Bacteroidota", "#E2CE95", 167],
  ["Pseudomonadota", "#FFA0A0", 207], ["Fusobacteriota", "#FFFF80", 246],
];
const legendFreq = [["HC", ringColors.HC, 342], ["UC", ringColors.UC, 381], ["CD", ringColors.CD, 420]];

export default function App() {
  return (
    <div style={{ position: "absolute", left: 0, top: 0, width: 1908, height: 2019, background: "#fff", overflow: "hidden" }}>
      <ChartCanvas left={0} top={0} width={1560} height={1440} config={radialConfig} />
      <ChartCanvas left={1634} top={135} width={274} height={290} config={() => pieConfig(pieTotal, pieTextTotal, [[26, -86], [83, -34], [-22, 79], [-34, -79]], true)} />
      <ChartCanvas left={1634} top={408} width={274} height={290} config={() => pieConfig(pieHC, pieTextHC, [[26, -86], [81, -35], [-22, 80], [-35, -79]], true)} />
      <ChartCanvas left={1638} top={680} width={270} height={290} config={() => pieConfig(pieUC, pieTextUC, [[26, -87], [83, -36], [-22, 80], [-34, -80]], false)} />
      <ChartCanvas left={1648} top={980} width={260} height={290} config={() => pieConfig(pieCD, pieTextCD, [[33, -86], [83, -29], [-22, 79], [-34, -80]], true)} />
      <ChartCanvas left={0} top={1440} width={600} height={579} config={vennConfig} />
      <ChartCanvas left={660} top={1490} width={1248} height={529} config={barConfig} />
      <ChartCanvas left={660} top={1490} width={1248} height={529} config={dotsConfig} />

      <T x={2} y={26} size={57} bold>A</T>
      <T x={1572} y={27} size={57} bold>B</T>
      <T x={4} y={1456} size={57} bold>C</T>
      <T x={587} y={1456} size={57} bold>D</T>

      <div style={{ position: "absolute", left: 51, top: 48, width: 206, height: 234, boxSizing: "border-box", border: "1.5px solid #eee" }} />
      <T x={58} y={62} size={18} bold>Phylum</T>
      <div style={{ position: "absolute", left: 55, top: 79, width: 198, height: 2, background: "#555" }} />
      {legendPhyla.map(([name, color, y]) => (
        <React.Fragment key={name as string}>
          <Swatch x={57} y={y} w={27} h={27} color={color} edge="#444" />
          <T x={97} y={(y as number) + 12} size={19.5}>{name}</T>
        </React.Fragment>
      ))}
      <div style={{ position: "absolute", left: 50, top: 300, width: 192, height: 157, boxSizing: "border-box", border: "1.5px solid #eee" }} />
      <T x={57} y={315} size={19} bold>Isolation frequency</T>
      <div style={{ position: "absolute", left: 54, top: 331.5, width: 184, height: 1.5, background: "#444" }} />
      {legendFreq.map(([name, color, y]) => (
        <React.Fragment key={name as string}>
          <Swatch x={56} y={y} w={27} h={27} color={color} edge="#333" />
          <T x={95} y={(y as number) + 12} size={19.5}>{name}</T>
        </React.Fragment>
      ))}

      <T x={1637} y={278} size={20} bold align="right">Total</T>
      <T x={1639} y={549} size={20} bold align="right">HC</T>
      <T x={1640} y={823} size={20} bold align="right">UC</T>
      <T x={1641} y={1128} size={20} bold align="right">CD</T>

      {legendD.map(([name, color, edge], i) => (
        <React.Fragment key={name}>
          <Swatch x={1829} y={1554 + i * 37} w={38} h={21} color={color} edge={edge} />
          <T x={1878} y={1565 + i * 37} size={20}>{name}</T>
        </React.Fragment>
      ))}
    </div>
  );
}
